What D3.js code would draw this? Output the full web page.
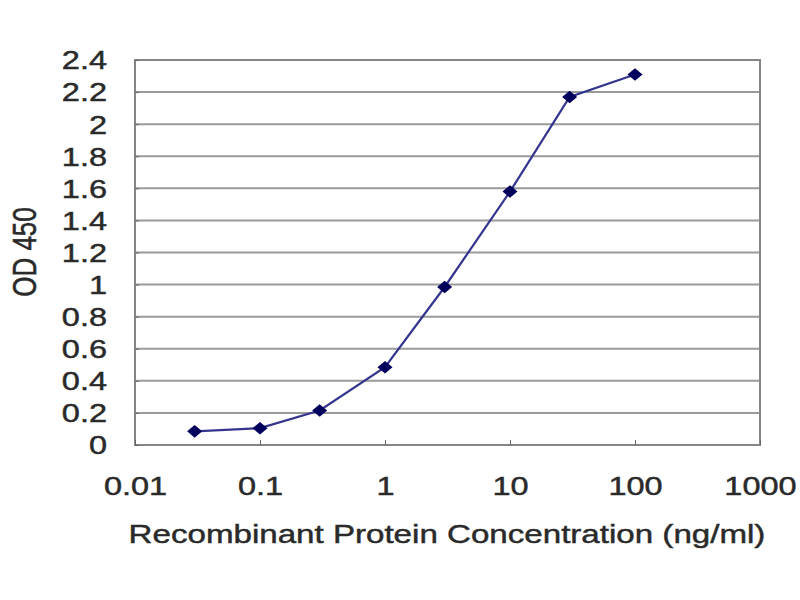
<!DOCTYPE html>
<html><head><meta charset="utf-8">
<script src="https://cdn.jsdelivr.net/npm/d3@7"></script>
<style>body{margin:0;background:#fff}</style>
</head><body>
<svg id="c" width="800" height="600"></svg>
<script>
const concentrations = [0.03, 0.1, 0.3, 1, 3, 10, 30, 100];
const odValues = [0.085, 0.105, 0.215, 0.485, 0.985, 1.58, 2.17, 2.31];
const yTicks = [0, 0.2, 0.4, 0.6, 0.8, 1, 1.2, 1.4, 1.6, 1.8, 2, 2.2, 2.4];
const xTicks = [0.01, 0.1, 1, 10, 100, 1000];
const xTitle = "Recombinant Protein Concentration (ng/ml)";
const yTitle = "OD 450";

const svg = d3.select("#c");
const L = 135, R = 760, T = 60, B = 445;
const SX = 1.25;
const x = d3.scaleLog().domain([0.01, 1000]).range([L, R]);
const y = d3.scaleLinear().domain([0, 2.4]).range([B, T]);
const font = "Liberation Sans, Arial, sans-serif";
const textCol = "#2a2a2a";

// gridlines
svg.append("g").selectAll("line").data(yTicks.filter(d => d > 0)).join("line")
  .attr("x1", L).attr("x2", R).attr("y1", d => y(d)).attr("y2", d => y(d))
  .attr("stroke", "#9a9a9a").attr("stroke-width", 2);

// border
svg.append("rect").attr("x", L).attr("y", T).attr("width", R - L).attr("height", B - T)
  .attr("fill", "none").attr("stroke", "#858585").attr("stroke-width", 2);

function styleText(sel, size) {
  sel.attr("font-family", font).attr("font-size", size).attr("fill", textCol)
    .attr("stroke", textCol).attr("stroke-width", 0.45);
}

// y axis
const yAxis = d3.axisLeft(y).tickValues(yTicks).tickFormat(d => String(+d.toFixed(1))).tickSize(-4);
const gy = svg.append("g").attr("transform", `translate(${L},0)`).call(yAxis);
gy.select(".domain").remove();
gy.selectAll("line").attr("stroke", "#666");
gy.selectAll("text").attr("x", 0).attr("dy", "0.34em")
  .attr("transform", `translate(-28,0) scale(${SX},1)`).call(styleText, 26);

// x axis
const xAxis = d3.axisBottom(x).tickValues(xTicks).tickFormat(d => String(d)).tickSize(-5);
const gx = svg.append("g").attr("transform", `translate(0,${B})`).call(xAxis);
gx.select(".domain").remove();
gx.selectAll("line").attr("stroke", "#666");
gx.selectAll("text").attr("y", 0).attr("dy", 0)
  .attr("transform", `translate(0,50) scale(${SX},1)`).call(styleText, 26);

// titles
svg.append("text").attr("transform", `translate(447,543) scale(${SX},1)`).attr("text-anchor", "middle")
  .text(xTitle).call(styleText, 26.5);
svg.append("text").attr("transform", `translate(36,252) scale(${SX},1) rotate(-90)`).attr("text-anchor", "middle")
  .text(yTitle).call(styleText, 26);

// line
const data = concentrations.map((c, i) => ({c, v: odValues[i]}));
svg.append("path").datum(data)
  .attr("d", d3.line().x(d => x(d.c)).y(d => y(d.v)))
  .attr("fill", "none").attr("stroke", "#35358f").attr("stroke-width", 2.2);

// markers
svg.append("g").selectAll("path").data(data).join("path")
  .attr("transform", d => `translate(${x(d.c)},${y(d.v)}) scale(1.2,1)`)
  .attr("d", d3.symbol(d3.symbolDiamond2, 100))
  .attr("fill", "#00005c");
</script>
</body></html>
